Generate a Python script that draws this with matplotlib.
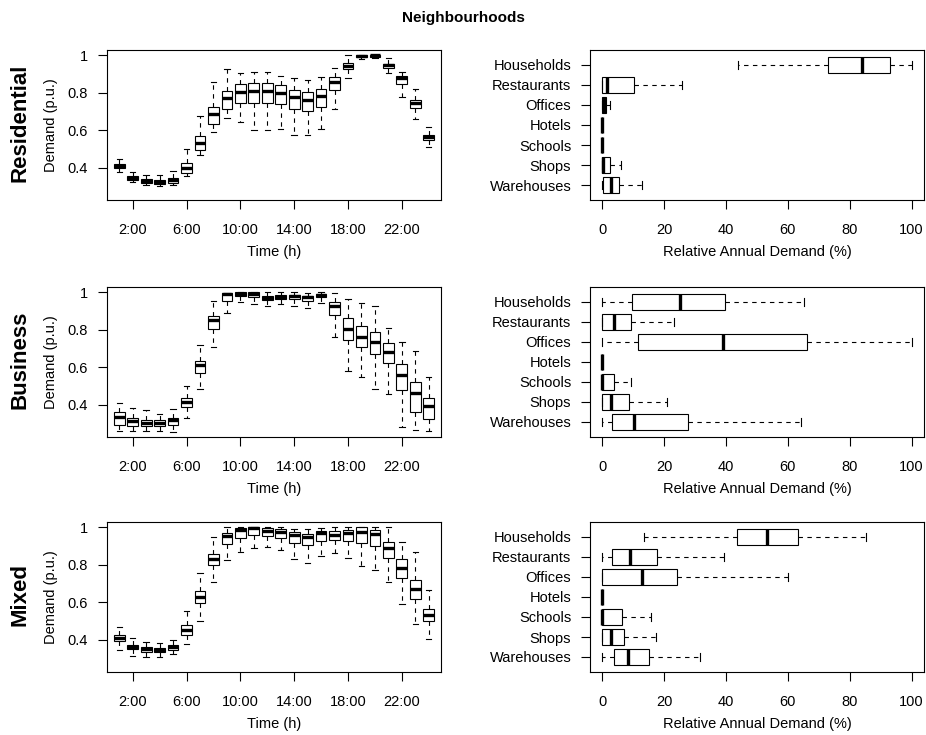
import matplotlib
matplotlib.use("Agg")
import matplotlib.pyplot as plt

plt.rcParams['font.family'] = ['Liberation Sans', 'DejaVu Sans']

neighbourhoods = ['Residential', 'Business', 'Mixed']
hours = list(range(1, 25))
hour_ticks = [2, 6, 10, 14, 18, 22]
hour_labels = ['2:00', '6:00', '10:00', '14:00', '18:00', '22:00']
demand_ticks = [0.4, 0.6, 0.8, 1.0]
demand_labels = ['0.4', '0.6', '0.8', '1']
categories = ['Households', 'Restaurants', 'Offices', 'Hotels', 'Schools', 'Shops', 'Warehouses']
share_ticks = [0, 20, 40, 60, 80, 100]

# (whisker low, q1, median, q3, whisker high) per hour
residential_hourly = [
    (0.374, 0.396, 0.408, 0.420, 0.444), (0.323, 0.335, 0.346, 0.355, 0.378),
    (0.307, 0.316, 0.328, 0.337, 0.362), (0.301, 0.310, 0.323, 0.333, 0.360),
    (0.308, 0.317, 0.333, 0.346, 0.381), (0.355, 0.369, 0.397, 0.422, 0.497),
    (0.465, 0.492, 0.529, 0.566, 0.675), (0.588, 0.630, 0.685, 0.723, 0.858),
    (0.666, 0.714, 0.769, 0.810, 0.924), (0.643, 0.744, 0.801, 0.844, 0.902),
    (0.600, 0.744, 0.810, 0.852, 0.909), (0.602, 0.742, 0.806, 0.849, 0.911),
    (0.604, 0.737, 0.796, 0.838, 0.890), (0.575, 0.714, 0.774, 0.815, 0.877),
    (0.575, 0.700, 0.758, 0.801, 0.865), (0.604, 0.721, 0.781, 0.820, 0.884),
    (0.712, 0.812, 0.854, 0.881, 0.932), (0.876, 0.924, 0.943, 0.956, 0.998),
    (0.979, 0.991, 0.996, 1.000, 1.000), (0.984, 0.991, 0.998, 1.000, 1.000),
    (0.902, 0.929, 0.945, 0.954, 0.982), (0.778, 0.844, 0.876, 0.886, 0.911),
    (0.659, 0.717, 0.742, 0.758, 0.819), (0.511, 0.548, 0.563, 0.575, 0.616),
]
business_hourly = [
    (0.259, 0.292, 0.335, 0.358, 0.408), (0.259, 0.284, 0.310, 0.330, 0.381),
    (0.259, 0.284, 0.303, 0.319, 0.372), (0.260, 0.284, 0.303, 0.319, 0.349),
    (0.252, 0.292, 0.316, 0.330, 0.378), (0.326, 0.387, 0.412, 0.435, 0.499),
    (0.483, 0.568, 0.611, 0.630, 0.717), (0.705, 0.804, 0.852, 0.874, 0.950),
    (0.890, 0.954, 0.988, 0.995, 0.997), (0.947, 0.977, 0.988, 0.998, 1.000),
    (0.934, 0.972, 0.991, 1.000, 1.000), (0.927, 0.957, 0.968, 0.979, 0.998),
    (0.934, 0.961, 0.975, 0.982, 0.998), (0.927, 0.964, 0.979, 0.986, 0.998),
    (0.916, 0.954, 0.972, 0.979, 0.996), (0.941, 0.972, 0.984, 0.991, 1.000),
    (0.760, 0.876, 0.924, 0.948, 0.996), (0.579, 0.746, 0.803, 0.860, 0.963),
    (0.545, 0.708, 0.760, 0.819, 0.941), (0.484, 0.668, 0.732, 0.787, 0.925),
    (0.454, 0.620, 0.678, 0.730, 0.808), (0.280, 0.476, 0.559, 0.616, 0.732),
    (0.262, 0.362, 0.461, 0.522, 0.687), (0.259, 0.321, 0.392, 0.436, 0.548),
]
mixed_hourly = [
    (0.342, 0.392, 0.410, 0.424, 0.465), (0.314, 0.348, 0.360, 0.372, 0.406),
    (0.307, 0.335, 0.348, 0.358, 0.388), (0.307, 0.333, 0.346, 0.356, 0.381),
    (0.321, 0.346, 0.358, 0.369, 0.397), (0.378, 0.426, 0.452, 0.476, 0.550),
    (0.500, 0.595, 0.627, 0.659, 0.756), (0.708, 0.797, 0.829, 0.858, 0.947),
    (0.826, 0.909, 0.950, 0.968, 0.998), (0.865, 0.943, 0.984, 0.995, 1.000),
    (0.890, 0.957, 0.993, 1.000, 1.000), (0.892, 0.950, 0.980, 0.993, 0.998),
    (0.879, 0.940, 0.972, 0.988, 0.998), (0.829, 0.916, 0.959, 0.973, 0.991),
    (0.810, 0.902, 0.947, 0.964, 0.988), (0.844, 0.925, 0.970, 0.980, 0.995),
    (0.863, 0.931, 0.957, 0.979, 0.998), (0.835, 0.924, 0.966, 0.984, 0.998),
    (0.794, 0.915, 0.975, 0.998, 1.000), (0.771, 0.899, 0.961, 0.986, 1.000),
    (0.708, 0.835, 0.886, 0.920, 0.998), (0.588, 0.728, 0.781, 0.828, 0.922),
    (0.483, 0.616, 0.668, 0.717, 0.865), (0.401, 0.497, 0.532, 0.561, 0.662),
]

# relative annual demand (%) per category, same order as categories
residential_share = [
    (44.0, 73.1, 84.1, 92.9, 100.0), (0.0, 0.0, 1.5, 10.2, 25.8),
    (0.0, 0.0, 0.4, 1.1, 2.4), (0.0, 0.0, 0.0, 0.0, 0.0),
    (0.0, 0.0, 0.0, 0.0, 0.0), (0.0, 0.0, 0.3, 2.5, 5.9),
    (0.0, 0.3, 2.7, 5.4, 12.9),
]
business_share = [
    (0.0, 9.7, 25.0, 39.5, 65.3), (0.0, 0.0, 3.8, 9.4, 23.2),
    (0.0, 11.5, 39.0, 66.1, 100.0), (0.0, 0.0, 0.0, 0.0, 0.0),
    (0.0, 0.0, 0.0, 3.7, 9.2), (0.0, 0.0, 2.7, 8.5, 21.0),
    (0.0, 3.1, 10.2, 27.7, 64.2),
]
mixed_share = [
    (13.5, 43.4, 53.1, 63.3, 85.1), (0.0, 3.0, 8.8, 17.6, 39.3),
    (0.0, 0.0, 12.8, 24.2, 60.1), (0.0, 0.0, 0.0, 0.0, 0.0),
    (0.0, 0.0, 0.0, 6.4, 15.7), (0.0, 0.0, 2.8, 7.0, 17.5),
    (0.0, 3.9, 8.4, 15.1, 31.7),
]

hourly = [residential_hourly, business_hourly, mixed_hourly]
shares = [residential_share, business_share, mixed_share]


def to_stats(rows):
    return [dict(whislo=r[0], q1=r[1], med=r[2], q3=r[3], whishi=r[4]) for r in rows]


box_style = dict(
    widths=0.8, capwidths=0.4, showfliers=False, patch_artist=True,
    boxprops=dict(facecolor='white', edgecolor='black', linewidth=0.8),
    medianprops=dict(color='black', linewidth=2.4, solid_capstyle='butt'),
    whiskerprops=dict(color='black', linewidth=0.8, linestyle=(0, (4, 4))),
    capprops=dict(color='black', linewidth=0.8),
)


def style_axes(ax):
    for s in ax.spines.values():
        s.set_linewidth(0.8)
    ax.tick_params(direction='out', length=6.5, width=0.8, labelsize=10.5, pad=7)


fig = plt.figure(figsize=(9.26, 7.35), dpi=100)
W, H = 926.0, 735.0
row_tops = [50, 287, 522]
for i, name in enumerate(neighbourhoods):
    top = row_tops[i]
    bottom = 1 - (top + 150) / H
    axl = fig.add_axes([107 / W, bottom, 334 / W, 150 / H])
    axl.bxp(to_stats(hourly[i]), positions=hours, **box_style)
    axl.set_xlim(0.09, 24.91)
    axl.set_ylim(0.227, 1.027)
    axl.set_xticks(hour_ticks, hour_labels)
    axl.set_yticks(demand_ticks, demand_labels)
    style_axes(axl)
    axl.tick_params(axis='x', pad=10)
    axl.set_xlabel('Time (h)', fontsize=10.5, labelpad=6)
    axl.set_ylabel('Demand (p.u.)', fontsize=10.5, labelpad=7)

    axr = fig.add_axes([590 / W, bottom, 334 / W, 150 / H])
    pos = list(range(len(categories), 0, -1))
    axr.bxp(to_stats(shares[i]), positions=pos, orientation='horizontal', **box_style)
    axr.set_xlim(-4, 104)
    axr.set_ylim(0.25, 7.75)
    axr.set_xticks(share_ticks, [str(t) for t in share_ticks])
    axr.set_yticks(pos, categories)
    style_axes(axr)
    axr.tick_params(axis='x', pad=10)
    axr.set_xlabel('Relative Annual Demand (%)', fontsize=10.5, labelpad=6)

    fig.text(20 / W, 1 - (top + 73) / H, name, rotation=90, fontsize=16,
             fontweight='bold', ha='center', va='center')

fig.text(0.5, 1 - 18 / H, 'Neighbourhoods', fontsize=11, fontweight='bold',
         ha='center', va='center')

fig.savefig('out.png', dpi=100)
